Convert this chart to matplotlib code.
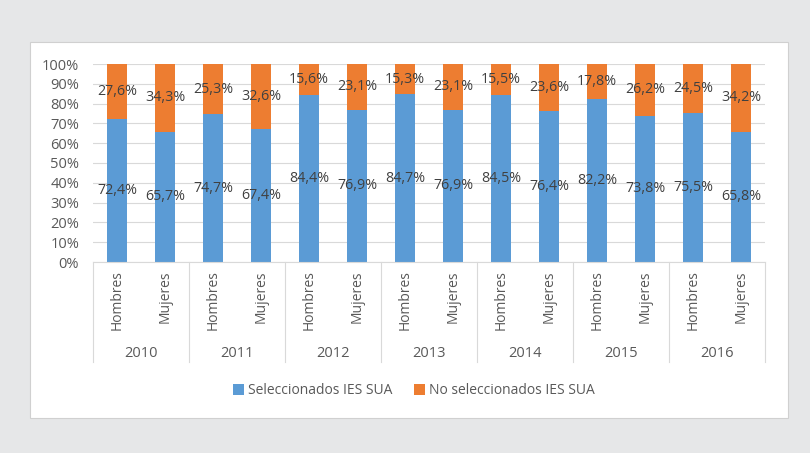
import numpy as np
import matplotlib
matplotlib.use('Agg')
import matplotlib.pyplot as plt
from matplotlib.patches import Rectangle, Patch
from matplotlib.lines import Line2D

years = ['2010', '2011', '2012', '2013', '2014', '2015', '2016']
groups = ['Hombres', 'Mujeres']
selected = [72.4, 65.7, 74.7, 67.4, 84.4, 76.9, 84.7, 76.9, 84.5, 76.4, 82.2, 73.8, 75.5, 65.8]
not_selected = [27.6, 34.3, 25.3, 32.6, 15.6, 23.1, 15.3, 23.1, 15.5, 23.6, 17.8, 26.2, 24.5, 34.2]
series_names = ['Seleccionados IES SUA', 'No seleccionados IES SUA']

BLUE = '#5B9BD5'
ORANGE = '#ED7D31'
TEXT = '#404040'
TICK = '#595959'
GRID = '#D9D9D9'
FS = 10

plt.rcParams['font.family'] = ['Open Sans', 'DejaVu Sans']

fig = plt.figure(figsize=(8.1, 4.53), dpi=100)
fig.patch.set_facecolor('#E6E7E8')

# white panel behind the chart
fig.patches.append(Rectangle((30 / 810, 1 - 418 / 453), 758 / 810, 376 / 453,
                             transform=fig.transFigure, facecolor='white',
                             edgecolor='#D0D0D0', linewidth=0.8, zorder=-5))

ax = fig.add_axes([93 / 810, 1 - 262 / 453, 672 / 810, 198 / 453])
ax.set_facecolor('none')

x = np.arange(len(selected))
sel = np.array(selected)
nsel = np.array(not_selected)
ax.bar(x, sel, width=0.4, color=BLUE, zorder=2)
ax.bar(x, nsel, width=0.4, bottom=sel, color=ORANGE, zorder=2)

for i in range(len(x)):
    ax.text(x[i], sel[i] / 2, ('%.1f%%' % sel[i]).replace('.', ','),
            ha='center', va='center', fontsize=FS + 0.3, color=TEXT, zorder=3)
    ax.text(x[i], sel[i] + nsel[i] / 2, ('%.1f%%' % nsel[i]).replace('.', ','),
            ha='center', va='center', fontsize=FS + 0.3, color=TEXT, zorder=3)

ax.set_xlim(-0.5, len(x) - 0.5)
ax.set_ylim(0, 100)
ax.set_yticks(np.arange(0, 101, 10))
ax.set_yticklabels(['%d%%' % v for v in range(0, 101, 10)], fontsize=FS + 0.5, color=TICK)
ax.yaxis.grid(True, color=GRID, linewidth=0.8, zorder=0)
ax.set_axisbelow(True)
ax.tick_params(axis='y', length=0, pad=10)
for s in ['top', 'right', 'left']:
    ax.spines[s].set_visible(False)
ax.spines['bottom'].set_color(GRID)
ax.spines['bottom'].set_linewidth(0.8)

ax.set_xticks(x)
ax.set_xticklabels(groups * len(years), rotation=90, fontsize=FS, color=TICK, va='top')
ax.tick_params(axis='x', length=0, pad=6)

# group separators and year labels
trans = ax.get_xaxis_transform()
for k in range(len(years) + 1):
    xs = 2 * k - 0.5
    ax.add_line(Line2D([xs, xs], [0, -0.505], transform=trans, color=GRID,
                       linewidth=0.8, clip_on=False))
for k, yr in enumerate(years):
    ax.text(2 * k + 0.5, -0.46, yr, transform=trans, ha='center', va='center',
            fontsize=FS + 0.5, color=TICK)

handles = [Patch(facecolor=BLUE), Patch(facecolor=ORANGE)]
leg = fig.legend(handles, series_names, loc='center', bbox_to_anchor=(0.511, 1 - 391 / 453),
                 ncol=2, frameon=False, fontsize=FS, handlelength=0.8, handleheight=0.8,
                 handletextpad=0.3, columnspacing=1.5)
for t in leg.get_texts():
    t.set_color(TICK)

fig.savefig('out.png', dpi=100, facecolor=fig.get_facecolor())
